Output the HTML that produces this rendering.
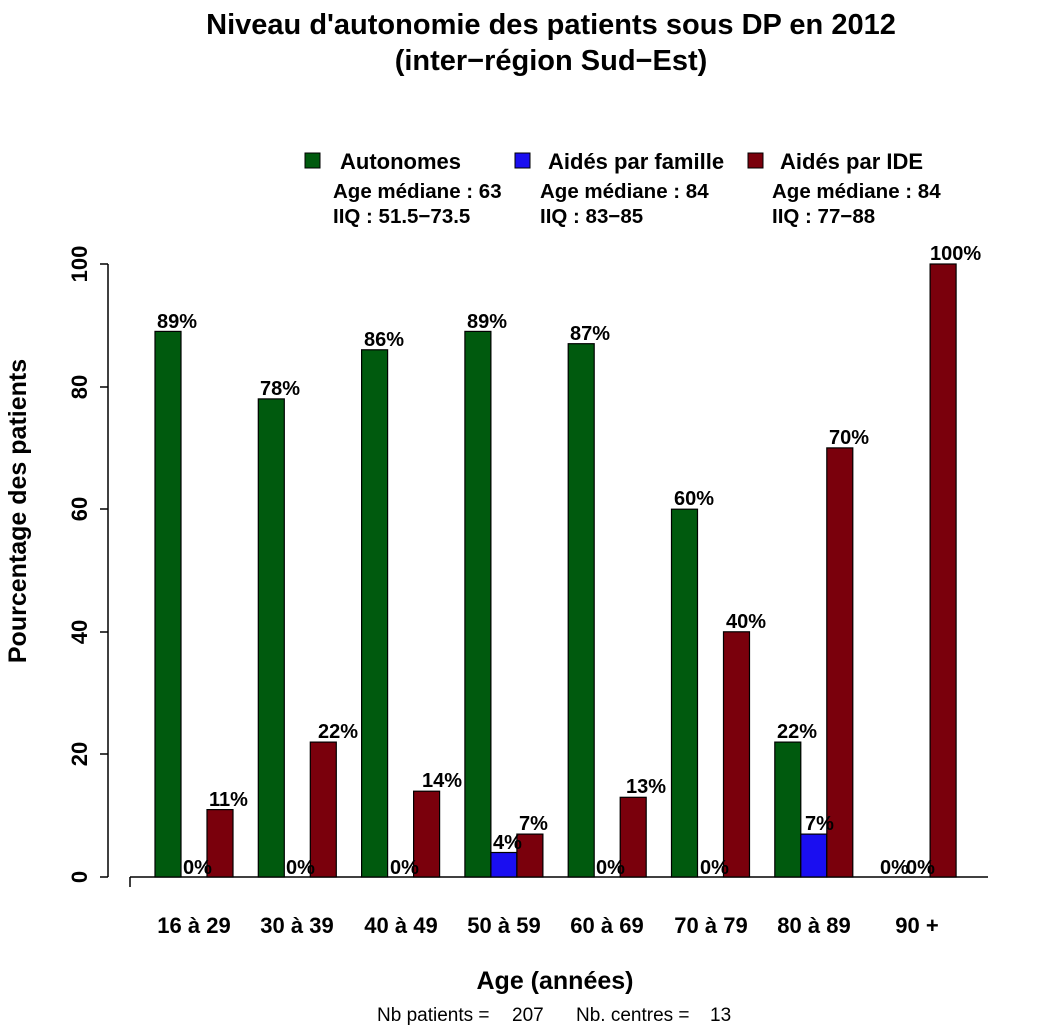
<!DOCTYPE html>
<html><head><meta charset="utf-8"><style>body{margin:0;background:#fff}svg{display:block}</style></head><body>
<svg width="1041" height="1027" xmlns="http://www.w3.org/2000/svg" font-family="Liberation Sans, Arial, sans-serif">
<rect width="1041" height="1027" fill="#fff"/>
<g font-weight="bold" font-size="29" text-anchor="middle" fill="#000">
<text x="551" y="34">Niveau d'autonomie des patients sous DP en 2012</text>
<text x="551" y="70">(inter−région Sud−Est)</text>
</g>
<g font-weight="bold" font-size="22" fill="#000">
<rect x="305" y="153" width="15" height="15" fill="#005a0e" stroke="#000"/>
<text x="340" y="169">Autonomes</text>
<rect x="515" y="153" width="15" height="15" fill="#1a0ef0" stroke="#000"/>
<text x="548" y="169">Aidés par famille</text>
<rect x="748" y="153" width="15" height="15" fill="#7a000c" stroke="#000"/>
<text x="780" y="169">Aidés par IDE</text>
</g>
<g font-weight="bold" font-size="20.5" fill="#000">
<text x="333" y="198">Age médiane : 63</text><text x="333" y="223">IIQ : 51.5−73.5</text>
<text x="540" y="198">Age médiane : 84</text><text x="540" y="223">IIQ : 83−85</text>
<text x="772" y="198">Age médiane : 84</text><text x="772" y="223">IIQ : 77−88</text>
</g>
<g stroke="#000" stroke-width="1.5" fill="none">
<path d="M108 264V877M100 264H108M100 387H108M100 509H108M100 632H108M100 754H108M100 877H108"/>
<path d="M130 877H988M130 877V887"/>
</g>
<g font-weight="bold" font-size="22" text-anchor="middle" fill="#000">
<text transform="translate(87,877) rotate(-90)">0</text>
<text transform="translate(87,754) rotate(-90)">20</text>
<text transform="translate(87,632) rotate(-90)">40</text>
<text transform="translate(87,509) rotate(-90)">60</text>
<text transform="translate(87,387) rotate(-90)">80</text>
<text transform="translate(87,264) rotate(-90)">100</text>
<text transform="translate(26,511) rotate(-90)" font-size="25">Pourcentage des patients</text>
<text x="555" y="989" font-size="25">Age (années)</text>
</g>
<text x="377" y="1021" font-size="19">Nb patients =</text>
<text x="512" y="1021" font-size="19">207</text>
<text x="576" y="1021" font-size="19">Nb. centres =</text>
<text x="710" y="1021" font-size="19">13</text>
<g stroke="#000" stroke-width="1.2">
<rect x="155" y="331.4" width="26" height="545.6" fill="#005a0e"/>
<rect x="207" y="809.6" width="26" height="67.4" fill="#7a000c"/>
<rect x="258.3" y="398.9" width="26" height="478.1" fill="#005a0e"/>
<rect x="310.3" y="742.1" width="26" height="134.9" fill="#7a000c"/>
<rect x="361.6" y="349.8" width="26" height="527.2" fill="#005a0e"/>
<rect x="413.6" y="791.2" width="26" height="85.8" fill="#7a000c"/>
<rect x="464.9" y="331.4" width="26" height="545.6" fill="#005a0e"/>
<rect x="490.9" y="852.5" width="26" height="24.5" fill="#1a0ef0"/>
<rect x="516.9" y="834.1" width="26" height="42.9" fill="#7a000c"/>
<rect x="568.2" y="343.7" width="26" height="533.3" fill="#005a0e"/>
<rect x="620.2" y="797.3" width="26" height="79.7" fill="#7a000c"/>
<rect x="671.5" y="509.2" width="26" height="367.8" fill="#005a0e"/>
<rect x="723.5" y="631.8" width="26" height="245.2" fill="#7a000c"/>
<rect x="774.8" y="742.1" width="26" height="134.9" fill="#005a0e"/>
<rect x="800.8" y="834.1" width="26" height="42.9" fill="#1a0ef0"/>
<rect x="826.8" y="447.9" width="26" height="429.1" fill="#7a000c"/>
<rect x="930.1" y="264" width="26" height="613" fill="#7a000c"/>
</g>
<g font-weight="bold" font-size="20" fill="#000">
<text x="157" y="328">89%</text><text x="183" y="874">0%</text><text x="209" y="806">11%</text>
<text x="260" y="395">78%</text><text x="286" y="874">0%</text><text x="318" y="738">22%</text>
<text x="364" y="346">86%</text><text x="390" y="874">0%</text><text x="422" y="787">14%</text>
<text x="467" y="328">89%</text><text x="493" y="849">4%</text><text x="519" y="830">7%</text>
<text x="570" y="340">87%</text><text x="596" y="874">0%</text><text x="626" y="793">13%</text>
<text x="674" y="505">60%</text><text x="700" y="874">0%</text><text x="726" y="628">40%</text>
<text x="777" y="738">22%</text><text x="805" y="830">7%</text><text x="829" y="444">70%</text>
<text x="880" y="874">0%</text><text x="906" y="874">0%</text><text x="930" y="260">100%</text>
</g>
<g font-weight="bold" font-size="22" text-anchor="middle" fill="#000">
<text x="194" y="933">16 à 29</text><text x="297" y="933">30 à 39</text><text x="401" y="933">40 à 49</text>
<text x="504" y="933">50 à 59</text><text x="607" y="933">60 à 69</text><text x="711" y="933">70 à 79</text>
<text x="814" y="933">80 à 89</text><text x="917" y="933">90 +</text>
</g>
</svg>
</body></html>
